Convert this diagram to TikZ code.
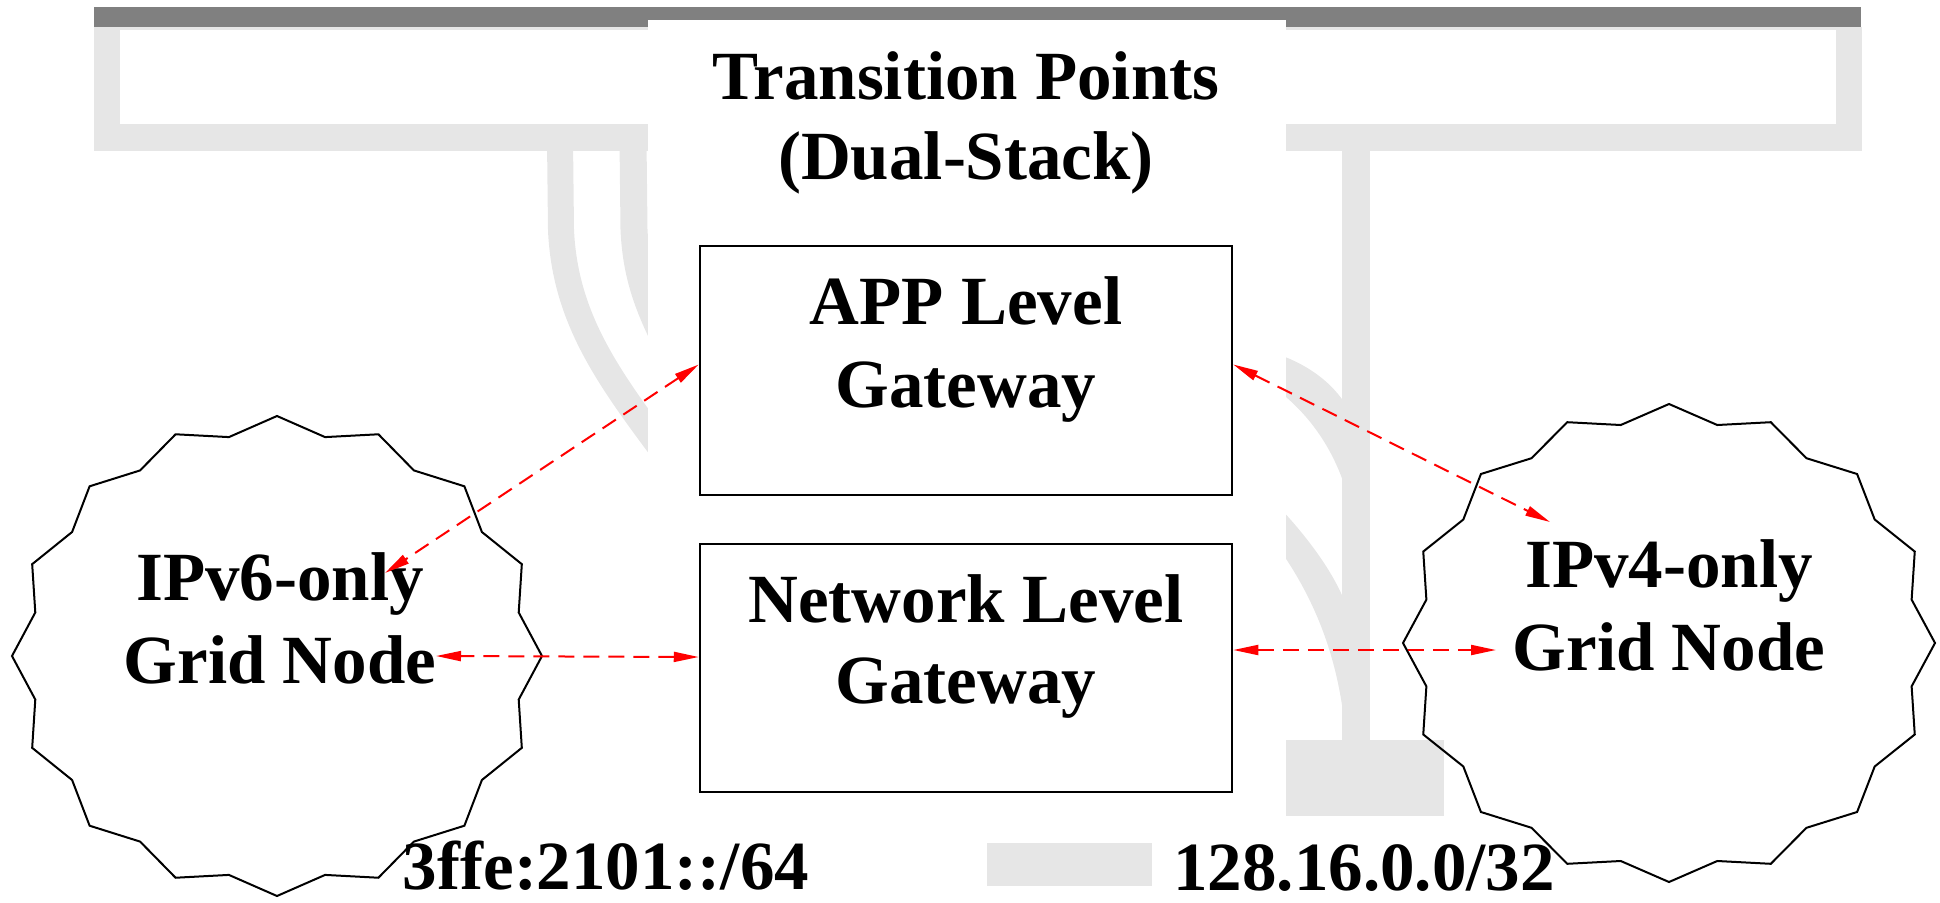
\documentclass[tikz,border=0pt]{standalone}
\usepackage{fontspec}
\setmainfont{Liberation Serif}
\usetikzlibrary{arrows.meta,calc,shapes.geometric}
\definecolor{wmlight}{HTML}{E6E6E6}
\definecolor{wmdark}{HTML}{808080}
\newcommand\jagged[3]{%
  \draw[cloudline] ($(#1.center)+(0,-#3)$)
    \foreach \k in {0,...,15}{
      -- ($(#1.center)+({0.93*#2*sin(22.5*\k+11.25)},{-0.93*#3*cos(22.5*\k+11.25)})$)
      -- ($(#1.center)+({#2*sin(22.5*\k+22.5)},{-#3*cos(22.5*\k+22.5)})$)
    } -- cycle;}
\begin{document}
\begin{tikzpicture}[x=1pt,y=-1pt,
  lbl/.style={font=\bfseries\fontsize{69pt}{83pt}\selectfont, align=center, anchor=base, inner sep=0pt},
  gwbox/.style={draw=black, line width=2.5pt, rectangle, minimum width=532pt, minimum height=249pt, inner sep=0pt},
  cloudline/.style={draw=black, line width=2pt, line join=miter},
  link/.style={draw=red, line width=2pt, dash pattern=on 16pt off 9pt,
    {Triangle[length=25pt,width=10pt]}-{Triangle[length=25pt,width=10pt]}},
  wm/.style={fill=wmlight, draw=none}]
\useasboundingbox (0,0) rectangle (1940,902);
% watermark
\fill[wmdark] (94,7) rectangle (1861,27);
\fill[wm] (94,27) rectangle (1862,151);
\fill[white] (120,30) rectangle (1836,124);
\draw[wmlight, line width=26pt] (560,140) -- (561,230) .. controls (565,320) and (610,380) .. (670,460);
\draw[wmlight, line width=27pt] (633,140) -- (634,230) .. controls (636,270) and (645,300) .. (665,340);
\fill[wm] (1342,140) rectangle (1370,745);
\fill[wm] (1286,740) rectangle (1444,816);
\fill[wm] (1280,355) .. controls (1310,366) and (1332,383) .. (1346,405) -- (1346,490) .. controls (1335,455) and (1315,420) .. (1280,392) -- cycle;
\fill[wm] (1280,508) .. controls (1310,540) and (1335,575) .. (1346,605) -- (1346,740) .. controls (1340,660) and (1315,600) .. (1280,550) -- cycle;
\fill[wm] (987,843) rectangle (1152,886);
\fill[white] (648,20) rectangle (1286,830);
% boxes
\node[gwbox] (app) at (966,370.5) {};
\node[gwbox, minimum height=248pt] (net) at (966,668) {};
\node[lbl, font=\bfseries\fontsize{69pt}{80pt}\selectfont] (title) at (966,179) {Transition Points\\(Dual-Stack)};
\node[lbl] (apptxt) at (966,407) {APP Level\\Gateway};
\node[lbl, font=\bfseries\fontsize{69pt}{81pt}\selectfont] (nettxt) at (966,703) {Network Level\\Gateway};
% clouds
\node[ellipse, minimum width=530pt, minimum height=480pt, inner sep=0pt] (v6) at (277,656) {};
\node[ellipse, minimum width=532pt, minimum height=478pt, inner sep=0pt] (v4) at (1669,643) {};
\jagged{v6}{265}{240}
\jagged{v4}{266}{239}
\node[lbl] (v6txt) at (280,683) {IPv6-only\\Grid Node};
\node[lbl] (v4txt) at (1669,670) {IPv4-only\\Grid Node};
\node[lbl, text depth=0pt] (pfx6) at (606,889) {3ffe:2101::/64};
\node[lbl, text depth=0pt] (pfx4) at (1364,890) {128.16.0.0/32};
% connectors
\coordinate (e1) at (385,573);
\coordinate (e2) at (1550,522);
\coordinate (e3) at (436,656);
\coordinate (e4) at (1496,650);
\draw[link] ($(app.west)+(0,-6)$) -- (e1);
\draw[link] ($(app.east)+(0,-6)$) -- (e2);
\draw[link] ($(net.west)+(0,-11)$) -- (e3);
\draw[link] ($(net.east)+(0,-18)$) -- (e4);
\end{tikzpicture}
\end{document}
